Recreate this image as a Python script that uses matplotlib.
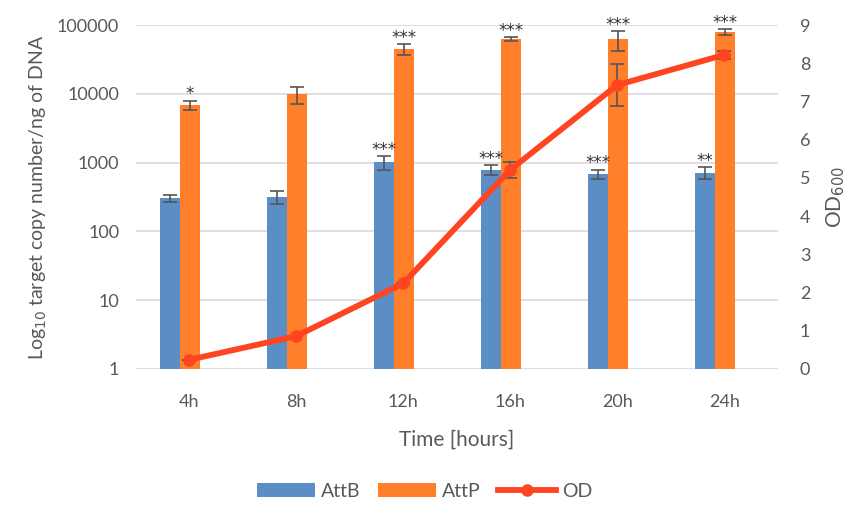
import numpy as np
import matplotlib.pyplot as plt

plt.rcParams['font.family'] = ['Lato', 'DejaVu Sans']

times = ['4h', '8h', '12h', '16h', '20h', '24h']

attb = [302, 318, 1010, 785, 683, 713]
attb_err = [32, 67, 220, 130, 110, 140]
attp = [6870, 9800, 44350, 62600, 62600, 79100]
attp_err = [1100, 2700, 8000, 3400, 20000, 8000]

od = [0.24, 0.86, 2.24, 5.21, 7.43, 8.22]
od_err = [0, 0, 0, 0.2, 0.54, 0.1]

attb_sig = ['', '', '***', '***', '***', '**']
attp_sig = ['*', '', '***', '***', '***', '***']

blue = '#5B8EC4'
orange = '#FF7F2A'
red = '#FF4422'
grey_text = '#595959'
err_col = '#555555'

fig = plt.figure(figsize=(8.49, 5.11), dpi=100)
ax = fig.add_axes([0.160, 0.278, 0.756, 0.673])
ax2 = ax.twinx()

x = np.arange(len(times))
w = 0.187
ekw = dict(ecolor=err_col, elinewidth=1.2, capsize=5, capthick=1.2)

ax.bar(x - 0.182, attb, w, color=blue, label='AttB', zorder=2, yerr=attb_err, error_kw=ekw)
ax.bar(x + 0.005, attp, w, color=orange, label='AttP', zorder=2, yerr=attp_err, error_kw=ekw)

# significance stars just above the error bars
def stars(xpos, top, s):
    if s:
        ax.annotate(s, (xpos, top), xytext=(0, -2), textcoords='offset points',
                    ha='center', va='bottom', fontsize=12, color='#333333',
                    family='DejaVu Sans', zorder=4)

for i in range(len(times)):
    stars(x[i] - 0.182, attb[i] + attb_err[i], attb_sig[i])
    stars(x[i] + 0.005, attp[i] + attp_err[i], attp_sig[i])

ax.set_yscale('log')
ax.set_ylim(1, 100000)
ax.set_yticks([1, 10, 100, 1000, 10000, 100000])
ax.set_yticklabels(['1', '10', '100', '1000', '10000', '100000'])
ax.minorticks_off()
ax.set_xlim(-0.5, len(times) - 0.5)
ax.set_xticks(x)
ax.set_xticklabels(times)
ax.grid(axis='y', color='#D9D9D9', linewidth=1.2, zorder=0)
ax.set_axisbelow(True)

ax2.errorbar(x, od, yerr=od_err, fmt='none', ecolor=err_col, elinewidth=1.2,
             capsize=5, capthick=1.2, zorder=3)
ax2.plot(x, od, color=red, linewidth=4.2, marker='o', markersize=8, label='OD', zorder=3)
ax2.set_ylim(0, 9)
ax2.set_yticks(range(10))

for a in (ax, ax2):
    for s in a.spines.values():
        s.set_visible(False)
    a.tick_params(length=0, labelsize=13, colors=grey_text)
ax.tick_params(axis='x', pad=18)
ax.tick_params(axis='y', pad=12)
ax2.tick_params(axis='y', pad=16)

ax.set_xlabel('Time [hours]', fontsize=15, color=grey_text, labelpad=14)
ax.set_ylabel('Log$_{10}$ target copy number/ng of DNA', fontsize=14, color=grey_text, labelpad=6)
ax2.set_ylabel('OD$_{600}$', fontsize=15, color=grey_text, labelpad=10)

h1, l1 = ax.get_legend_handles_labels()
h2, l2 = ax2.get_legend_handles_labels()
fig.legend(h1 + h2, l1 + l2, loc='lower center', ncol=3, frameon=False, fontsize=14,
           bbox_to_anchor=(0.5, -0.012), handlelength=3.0, handletextpad=0.3,
           columnspacing=0.9, labelcolor=grey_text)

fig.savefig('out.png', dpi=100, facecolor='white')
